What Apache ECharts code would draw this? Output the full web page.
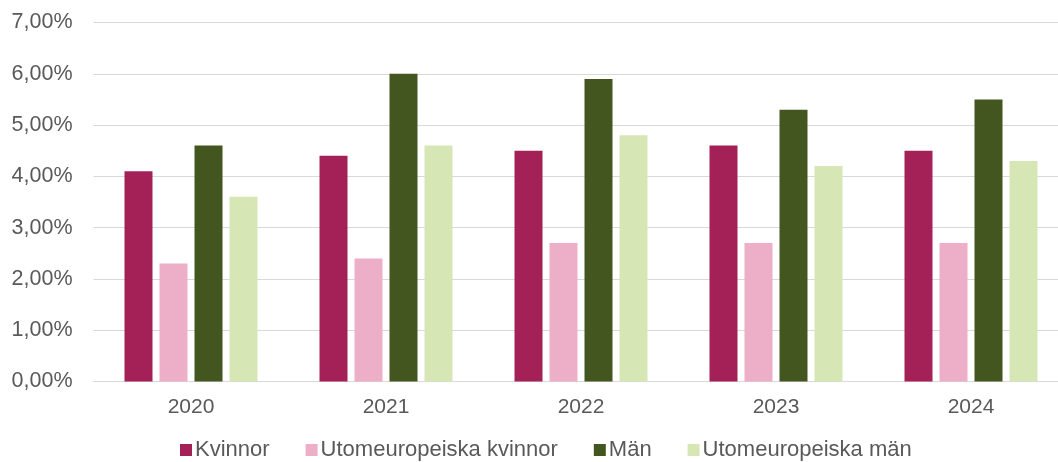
<!DOCTYPE html>
<html><head><meta charset="utf-8">
<script src="https://cdn.jsdelivr.net/npm/echarts@6/dist/echarts.min.js"></script>
<style>html,body{margin:0;padding:0;background:#fff}#c{width:1058px;height:462px}</style>
</head><body><div id="c"></div>
<script>
const categories = ['2020','2021','2022','2023','2024'];
const kvinnor = [4.1, 4.4, 4.5, 4.6, 4.5];
const utomKvinnor = [2.3, 2.4, 2.7, 2.7, 2.7];
const man = [4.6, 6.0, 5.9, 5.3, 5.5];
const utomMan = [3.6, 4.6, 4.8, 4.2, 4.3];
const seriesNames = ['Kvinnor','Utomeuropeiska kvinnor','Män','Utomeuropeiska män'];
const colors = ['#A32157','#EDAEC8','#44561F','#D7E6B5'];
const font = 'Liberation Sans, Arial, sans-serif';
const chart = echarts.init(document.getElementById('c'), null, {renderer:'canvas'});
const mk = (name, data, i) => ({
  name, type:'bar', data, barWidth:28, barGap:'25%',
  itemStyle:{color:colors[i]}, animation:false
});
chart.setOption({
  animation:false,
  color: colors,
  grid:{left:93.5, top:22.5, right:-10.5, height:359, containLabel:false, outerBoundsMode:'none'},
  legend:{
    data: seriesNames, left:180, top:438, itemWidth:12, itemHeight:12,
    itemGap:36, icon:'rect', padding:0,
    textStyle:{fontFamily:font, fontSize:22, lineHeight:24, color:'#595959', padding:[0,0,0,-2]}
  },
  xAxis:{
    type:'category', data:categories,
    axisLine:{lineStyle:{color:'#D9D9D9', width:1}},
    axisTick:{show:false},
    axisLabel:{fontFamily:font, fontSize:21, color:'#595959', margin:15}
  },
  yAxis:{
    type:'value', min:0, max:7, interval:1,
    axisLine:{show:false}, axisTick:{show:false},
    splitLine:{lineStyle:{color:'#D9D9D9', width:1}},
    axisLabel:{fontFamily:font, fontSize:21.5, color:'#595959', margin:21,
      formatter: v => v.toFixed(2).replace('.',',') + '%'}
  },
  series:[
    mk(seriesNames[0], kvinnor, 0),
    mk(seriesNames[1], utomKvinnor, 1),
    mk(seriesNames[2], man, 2),
    mk(seriesNames[3], utomMan, 3)
  ]
});
</script></body></html>
